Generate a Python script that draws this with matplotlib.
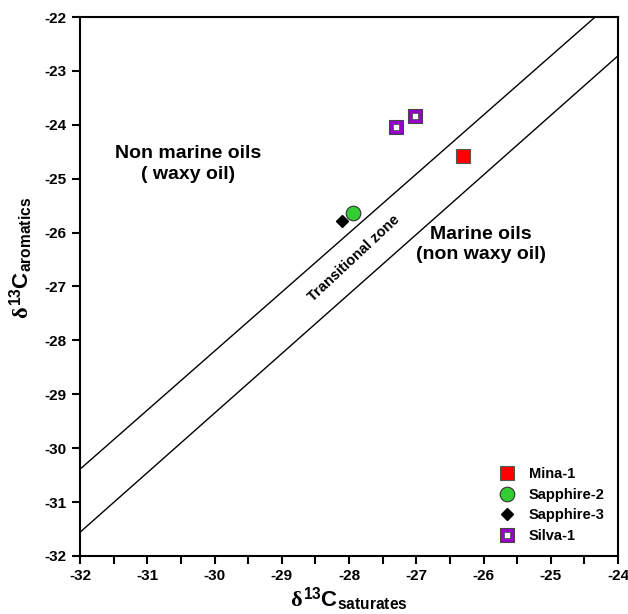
import matplotlib
matplotlib.use("Agg")
import matplotlib.pyplot as plt
from matplotlib.lines import Line2D
from matplotlib.legend_handler import HandlerTuple
from matplotlib.ticker import MultipleLocator

plt.rcParams["font.family"] = "Liberation Sans"
plt.rcParams["font.weight"] = "bold"
plt.rcParams["axes.unicode_minus"] = False
plt.rcParams["mathtext.fontset"] = "custom"
plt.rcParams["mathtext.rm"] = "Liberation Sans:bold"
plt.rcParams["mathtext.bf"] = "Liberation Sans:bold"
plt.rcParams["mathtext.it"] = "Liberation Serif"

# isotope data (per mil)
wells = ["Mina-1", "Sapphire-2", "Sapphire-3", "Silva-1"]
sat_mina = [-26.31]
aro_mina = [-24.58]
sat_sap2 = [-27.94]
aro_sap2 = [-25.63]
sat_sap3 = [-28.11]
aro_sap3 = [-25.78]
sat_silva = [-27.30, -27.02]
aro_silva = [-24.04, -23.84]

# boundary lines of the transitional zone
upper_x = [-32, -24.34]
upper_y = [-30.39, -22]
lower_x = [-32, -24]
lower_y = [-31.56, -22.72]

fig = plt.figure(figsize=(6.28, 6.14), dpi=100)
ax = fig.add_axes([0.1274, 0.0945, 0.8567, 0.8778])

ax.plot(upper_x, upper_y, color="black", lw=1.0)
ax.plot(lower_x, lower_y, color="black", lw=1.0)

ax.plot(sat_mina, aro_mina, "s", ms=10, mfc="#ff0000", mec="#555555", mew=0.8, ls="none")
ax.plot(sat_sap2, aro_sap2, "o", ms=10.5, mfc="#33cc33", mec="#333333", mew=0.8, ls="none")
ax.plot(sat_sap3, aro_sap3, "D", ms=6.5, mfc="black", mec="black", ls="none")
ax.plot(sat_silva, aro_silva, "s", ms=9.5, mfc="#9900cc", mec="#444444", mew=0.8, ls="none")
ax.plot(sat_silva, aro_silva, "s", ms=4.5, mfc="white", mec="#444444", mew=0.5, ls="none")

ax.text(-30.39, -24.72, "Non marine oils\n( waxy oil)", ha="center", va="center",
        fontsize=14, fontweight="bold", linespacing=1.3)
ax.text(-26.04, -26.22, "Marine oils\n(non waxy oil)", ha="center", va="center",
        fontsize=14, fontweight="bold", linespacing=1.3)
ax.text(-27.93, -26.47, "Transitional zone", ha="center", va="center",
        fontsize=10.5, fontweight="bold", rotation=43)

ax.set_xlim(-32, -24)
ax.set_ylim(-32, -22)
ax.xaxis.set_major_locator(MultipleLocator(1))
ax.xaxis.set_minor_locator(MultipleLocator(0.5))
ax.yaxis.set_major_locator(MultipleLocator(1))
ax.tick_params(which="both", direction="out", length=6, width=1.5,
               labelsize=11, top=False, right=False)
for lab in ax.get_xticklabels() + ax.get_yticklabels():
    lab.set_fontweight("bold")
for sp in ax.spines.values():
    sp.set_linewidth(1.5)

ax.set_xlabel(r"$\mathit{\delta}^{13}\mathrm{C}_{\mathrm{saturates}}$", fontsize=16, labelpad=2)
ax.set_ylabel(r"$\mathit{\delta}^{13}\mathrm{C}_{\mathrm{aromatics}}$", fontsize=16)
ax.yaxis.set_label_coords(-0.083, 0.553)

h_mina = Line2D([], [], marker="s", ms=10, mfc="#ff0000", mec="#555555", mew=0.8, ls="none")
h_sap2 = Line2D([], [], marker="o", ms=10.5, mfc="#33cc33", mec="#333333", mew=0.8, ls="none")
h_sap3 = Line2D([], [], marker="D", ms=6.5, mfc="black", mec="black", ls="none")
h_silva = (Line2D([], [], marker="s", ms=9.5, mfc="#9900cc", mec="#444444", mew=0.8, ls="none"),
           Line2D([], [], marker="s", ms=4.5, mfc="white", mec="#444444", mew=0.5, ls="none"))
leg = ax.legend([h_mina, h_sap2, h_sap3, h_silva], wells,
                handler_map={tuple: HandlerTuple(ndivide=1, pad=0)},
                loc="lower right", bbox_to_anchor=(1.0, 0.0), frameon=False,
                prop={"weight": "bold", "size": 10.5}, handlelength=1.2,
                handletextpad=0.9, labelspacing=0.45)

fig.savefig("out.png", dpi=100)
